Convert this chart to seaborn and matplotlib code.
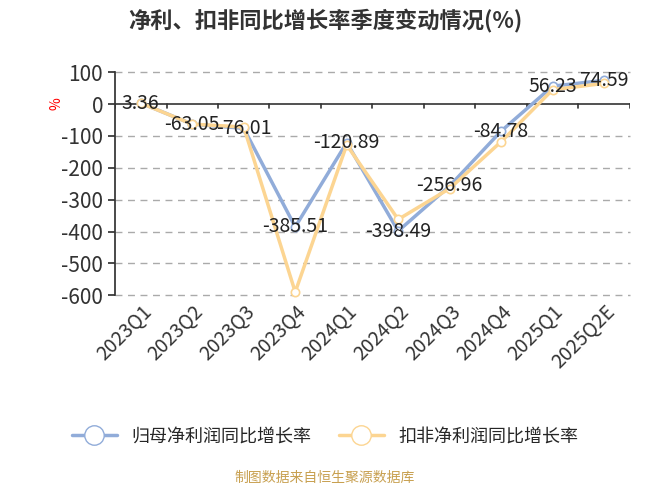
import numpy as np
import pandas as pd
import seaborn as sns
import matplotlib
matplotlib.use('Agg')
import matplotlib.pyplot as plt
from matplotlib.lines import Line2D

sns.set_theme(style='white')
plt.rcParams['font.family'] = ['Noto Sans CJK SC', 'DejaVu Sans']
plt.rcParams['axes.unicode_minus'] = False

quarters = ['2023Q1', '2023Q2', '2023Q3', '2023Q4', '2024Q1', '2024Q2',
            '2024Q3', '2024Q4', '2025Q1', '2025Q2E']
net_profit = [3.36, -63.05, -76.01, -385.51, -120.89, -398.49, -256.96, -84.78, 56.23, 74.59]
deducted = [3, -63, -72, -590, -128, -362, -265, -118, 45, 65]
name1 = '归母净利润同比增长率'
name2 = '扣非净利润同比增长率'

df = pd.DataFrame({'q': quarters, name1: net_profit, name2: deducted})
long = df.melt(id_vars='q', var_name='series', value_name='v')
c1, c2 = '#91acd9', '#fcd592'

fig = plt.figure(figsize=(6.5, 4.88), dpi=100)
ax = fig.add_axes([0.177, 0.395, 0.792, 0.457])
sns.lineplot(data=long, x='q', y='v', hue='series', palette=[c1, c2], ax=ax,
             linewidth=2.5, marker='o', markersize=6, markerfacecolor='white',
             markeredgewidth=1.2, legend=False, sort=False)
for l, col in zip(ax.lines, [c1, c2]):
    l.set_markeredgecolor(col)
    l.set_clip_on(False)

ax.set_xlim(-0.5, len(quarters) - 0.5)
ax.set_ylim(-600, 100)
ax.set_yticks(range(-600, 101, 100))
for y in range(-600, 101, 100):
    if y != 0:
        ax.axhline(y, color='#aaaaaa', ls=(0, (5, 4)), lw=1, zorder=0, clip_on=False)
ax.axhline(0, color='#333333', lw=1.2, zorder=1)
for i in range(len(quarters) + 1):
    ax.plot([i - 0.5, i - 0.5], [0, -12], color='#333333', lw=1.2, zorder=1)
for s in ['top', 'right', 'bottom']:
    ax.spines[s].set_visible(False)
ax.spines['left'].set_color('#333333')
ax.tick_params(axis='y', length=5, color='#333333', labelsize=15, labelcolor='#333333', left=True)
ax.tick_params(axis='x', length=0, labelsize=14, labelcolor='#333333', pad=4)
ax.set_xticks(range(len(quarters)))
ax.set_xticklabels(quarters, rotation=45, ha='right', rotation_mode='anchor')
ax.set_xlabel('')
ax.set_ylabel('%', color='red', fontsize=10, rotation=90, labelpad=2)
ax.yaxis.set_label_coords(-0.1, 0.86)

for i, v in enumerate(net_profit):
    ax.text(i, v, f'{v:.2f}', ha='center', va='center', fontsize=14, color='#222222', zorder=5)

fig.text(0.5, 0.958, '净利、扣非同比增长率季度变动情况(%)', ha='center', va='center',
         fontsize=16, fontweight='bold', color='#333333')
handles = [Line2D([], [], color=c, lw=2.5, marker='o', markersize=14,
                  markerfacecolor='white', markeredgecolor=c) for c in [c1, c2]]
fig.legend(handles, [name1, name2], loc='center', bbox_to_anchor=(0.5, 0.105),
           ncol=2, frameon=False, fontsize=13, handlelength=2.5, columnspacing=1.5)
fig.text(0.5, 0.02, '制图数据来自恒生聚源数据库', ha='center', va='center',
         fontsize=10, color='#c8a050')
fig.savefig('out.png', dpi=100)
